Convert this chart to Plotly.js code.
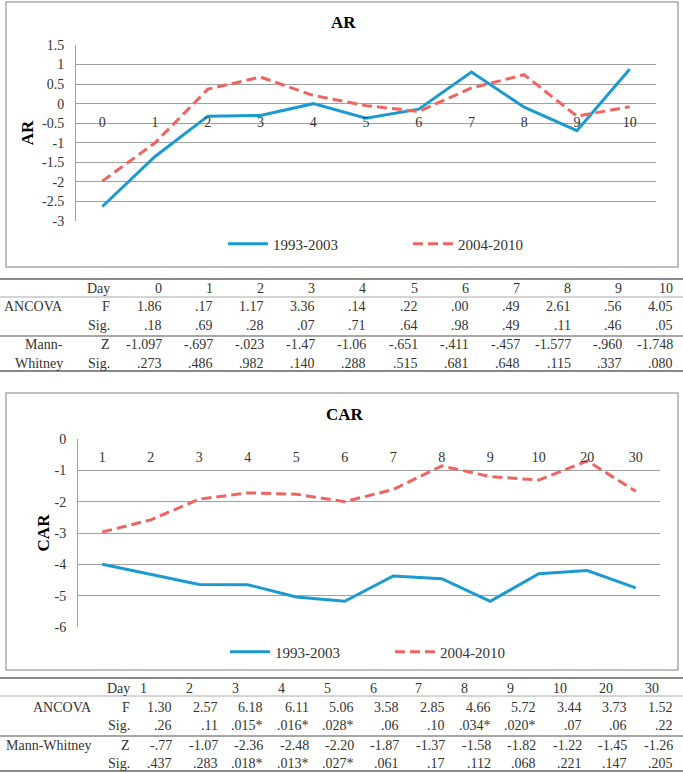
<!DOCTYPE html>
<html><head><meta charset="utf-8">
<script src="https://cdn.plot.ly/plotly-3.0.1.min.js"></script>
<style>html,body{margin:0;padding:0;background:#fff}#chart{width:683px;height:773px}</style>
</head><body><div id="chart"></div>
<script>
// ---------- data ----------
const seriesNames = ['1993-2003', '2004-2010'];

const arDays = ['0','1','2','3','4','5','6','7','8','9','10'];
const ar1993 = [-2.63, -1.35, -0.32, -0.30, 0.00, -0.37, -0.14, 0.81, -0.09, -0.69, 0.88];
const ar2004 = [-1.98, -1.00, 0.37, 0.68, 0.21, -0.05, -0.20, 0.40, 0.74, -0.32, -0.08];
const arTickVals = [1.5, 1, 0.5, 0, -0.5, -1, -1.5, -2, -2.5, -3];
const arTickText = ['1.5','1','0.5','0','-0.5','-1','-1.5','-2','-2.5','-3'];

const carDays = ['1','2','3','4','5','6','7','8','9','10','20','30'];
const car1993 = [-4.00, -4.33, -4.64, -4.65, -5.04, -5.18, -4.37, -4.46, -5.18, -4.30, -4.20, -4.75];
const car2004 = [-2.97, -2.58, -1.92, -1.72, -1.76, -2.00, -1.61, -0.86, -1.20, -1.31, -0.70, -1.67];
const carTickVals = [0, -1, -2, -3, -4, -5, -6];
const carTickText = ['0','-1','-2','-3','-4','-5','-6'];

// table under AR chart
const arAncovaF   = ['1.86','.17','1.17','3.36','.14','.22','.00','.49','2.61','.56','4.05'];
const arAncovaSig = ['.18','.69','.28','.07','.71','.64','.98','.49','.11','.46','.05'];
const arMannZ     = ['-1.097','-.697','-.023','-1.47','-1.06','-.651','-.411','-.457','-1.577','-.960','-1.748'];
const arMannSig   = ['.273','.486','.982','.140','.288','.515','.681','.648','.115','.337','.080'];

// table under CAR chart
const carAncovaF   = ['1.30','2.57','6.18','6.11','5.06','3.58','2.85','4.66','5.72','3.44','3.73','1.52'];
const carAncovaSig = ['.26','.11','.015*','.016*','.028*','.06','.10','.034*','.020*','.07','.06','.22'];
const carMannZ     = ['-.77','-1.07','-2.36','-2.48','-2.20','-1.87','-1.37','-1.58','-1.82','-1.22','-1.45','-1.26'];
const carMannSig   = ['.437','.283','.018*','.013*','.027*','.061','.17','.112','.068','.221','.147','.205'];

// ---------- helpers ----------
const W = 683, H = 773;
const px = v => v / W;
const py = v => 1 - v / H;
const FONT = 'Liberation Serif';
const TXT = '#333333';
const BLUE = '#1a9ad0';
const RED = '#ee6560';
const GRID = '#a0a0a0';

const traces = [
  {x: arDays, y: ar1993, name: seriesNames[0], type: 'scatter', mode: 'lines', xaxis: 'x', yaxis: 'y', legend: 'legend',
   line: {color: BLUE, width: 3}},
  {x: arDays, y: ar2004, name: seriesNames[1], type: 'scatter', mode: 'lines', xaxis: 'x', yaxis: 'y', legend: 'legend',
   line: {color: RED, width: 3, dash: '10px,5px'}},
  {x: carDays, y: car1993, name: seriesNames[0], type: 'scatter', mode: 'lines', xaxis: 'x2', yaxis: 'y2', legend: 'legend2',
   line: {color: BLUE, width: 3}},
  {x: carDays, y: car2004, name: seriesNames[1], type: 'scatter', mode: 'lines', xaxis: 'x2', yaxis: 'y2', legend: 'legend2',
   line: {color: RED, width: 3, dash: '10px,5px'}}
];

const annotations = [];
function ann(text, x, y, xanchor, opts) {
  annotations.push(Object.assign({
    text: text, x: px(x), y: py(y), xref: 'paper', yref: 'paper',
    xanchor: xanchor, yanchor: 'middle', showarrow: false,
    borderpad: 0, borderwidth: 0,
    font: {family: FONT, size: 14, color: TXT}
  }, opts || {}));
}
// chart titles
ann('<b>AR</b>', 343, 22, 'center', {font: {family: FONT, size: 17, color: '#000'}});
ann('<b>CAR</b>', 345, 414, 'center', {font: {family: FONT, size: 17, color: '#000'}});

// table 1
const t1 = {day: 288, f: 307, s: 325, z: 345, s2: 363};
ann('ANCOVA', 63, t1.f, 'right');
ann('Mann-', 63, t1.z, 'right');
ann('Whitney', 63, t1.s2, 'right');
[['Day', t1.day], ['F', t1.f], ['Sig.', t1.s], ['Z', t1.z], ['Sig.', t1.s2]].forEach(r => ann(r[0], 110, r[1], 'right'));
arDays.forEach((d, i) => {
  const xr = 162 + 51.1 * i;
  ann(d, xr, t1.day, 'right');
  ann(arAncovaF[i], xr, t1.f, 'right');
  ann(arAncovaSig[i], xr, t1.s, 'right');
  ann(arMannZ[i], xr, t1.z, 'right');
  ann(arMannSig[i], xr, t1.s2, 'right');
});

// table 2
const t2 = {day: 688, f: 707, s: 725, z: 745, s2: 763};
ann('ANCOVA', 92, t2.f, 'right');
ann('Mann-Whitney', 92, t2.z, 'right');
[['Day', t2.day], ['F', t2.f], ['Sig.', t2.s], ['Z', t2.z], ['Sig.', t2.s2]].forEach(r => ann(r[0], 130, r[1], 'right'));
carDays.forEach((d, i) => {
  ann(d, 140 + 45.9 * i, t2.day, 'left');
  const xr = 172 + 45.5 * i;
  ann(carAncovaF[i], xr, t2.f, 'right');
  ann(carAncovaSig[i], xr, t2.s, 'right');
  ann(carMannZ[i], xr, t2.z, 'right');
  ann(carMannSig[i], xr, t2.s2, 'right');
});

const shapes = [];
function hline(y, w, c) {
  shapes.push({type: 'line', xref: 'paper', yref: 'paper', x0: 0, x1: 1, y0: py(y), y1: py(y),
               line: {color: c, width: w}});
}
function frame(x0, y0, x1, y1) {
  shapes.push({type: 'rect', xref: 'paper', yref: 'paper', x0: px(x0), x1: px(x1), y0: py(y1), y1: py(y0),
               line: {color: '#aaaaaa', width: 1.5}, fillcolor: 'rgba(0,0,0,0)'});
}
frame(6, 2, 678, 267);
frame(6, 393, 678, 670);
hline(279, 2, '#8a8a8a'); hline(297, 1, '#aaaaaa'); hline(336, 1.5, '#8a8a8a'); hline(371, 2, '#8a8a8a');
hline(678, 2, '#8a8a8a'); hline(696, 1, '#aaaaaa'); hline(736, 1.5, '#8a8a8a'); hline(771, 2, '#8a8a8a');

const tickFont = {family: FONT, size: 14, color: TXT};
const layout = {
  width: W, height: H,
  margin: {l: 0, r: 0, t: 0, b: 0},
  paper_bgcolor: '#fff', plot_bgcolor: '#fff',
  font: {family: FONT, color: TXT},
  xaxis: {domain: [px(76), px(656)], anchor: 'free', position: py(112), type: 'category',
          range: [-0.5, arDays.length - 0.5], autorange: false,
          showgrid: false, showline: false, zeroline: false, ticks: '', tickfont: tickFont},
  yaxis: {domain: [py(221), py(45)], anchor: 'x', range: [-3, 1.5], autorange: false,
          tickmode: 'array', tickvals: arTickVals, ticktext: arTickText,
          showgrid: true, gridcolor: GRID, gridwidth: 1, zeroline: false,
          showline: true, linecolor: GRID, linewidth: 1, ticks: '', ticklabelstandoff: 8,
          tickfont: tickFont,
          title: {text: '<b>AR</b>', font: {family: FONT, size: 17, color: '#000'}, standoff: 4}},
  xaxis2: {domain: [px(78), px(660)], anchor: 'free', position: py(447), type: 'category',
           range: [-0.5, carDays.length - 0.5], autorange: false,
           showgrid: false, showline: false, zeroline: false, ticks: '', tickfont: tickFont},
  yaxis2: {domain: [py(627), py(439)], anchor: 'x2', range: [-6, 0], autorange: false,
           tickmode: 'array', tickvals: carTickVals, ticktext: carTickText,
           showgrid: true, gridcolor: GRID, gridwidth: 1, zeroline: false,
           showline: true, linecolor: GRID, linewidth: 1, ticks: '', ticklabelstandoff: 8,
           tickfont: tickFont,
           title: {text: '<b>CAR</b>', font: {family: FONT, size: 17, color: '#000'}, standoff: 0}},
  legend: {orientation: 'h', x: px(223), y: py(244), xanchor: 'left', yanchor: 'middle',
           entrywidth: 130, entrywidthmode: 'pixels', itemwidth: 40,
           font: {family: FONT, size: 15, color: TXT}, bgcolor: 'rgba(0,0,0,0)'},
  legend2: {orientation: 'h', x: px(225), y: py(652), xanchor: 'left', yanchor: 'middle',
            entrywidth: 110, entrywidthmode: 'pixels', itemwidth: 40,
            font: {family: FONT, size: 15, color: TXT}, bgcolor: 'rgba(0,0,0,0)'},
  showlegend: true,
  annotations: annotations,
  shapes: shapes
};

Plotly.newPlot('chart', traces, layout, {displayModeBar: false, staticPlot: true});
</script>
</body></html>
